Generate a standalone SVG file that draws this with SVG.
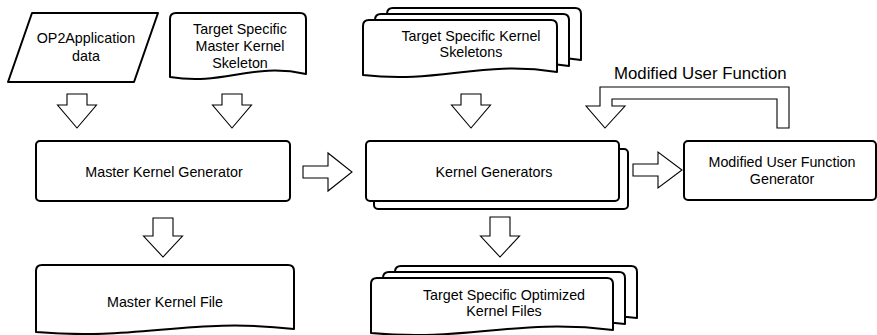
<svg xmlns="http://www.w3.org/2000/svg" width="877" height="335" viewBox="0 0 877 335">
<style>
.shape{fill:#fff;stroke:#000;stroke-width:2;stroke-linejoin:round}
.arrow{fill:#fff;stroke:#000;stroke-width:1.1;stroke-linejoin:miter}
text{font-family:"Liberation Sans",Arial,Helvetica,sans-serif;font-size:14.3px;fill:#000;text-anchor:middle}
.lbl{font-size:16.8px;text-anchor:start}
</style>
<rect width="877" height="335" fill="#fff"/>
<g id="op2-data">
<path class="shape" d="M32,13 L158,13 L134,82 L8,82 Z"/>
<text x="86" y="43">OP2Application</text>
<text x="86" y="61">data</text>
</g>
<g id="master-skeleton">
<path class="shape" d="M170,77 L170,19 Q170,13 176,13 L300,13 Q306,13 306,19 L306,74 C251.6,62 224.4,86 170,77 Z"/>
<text x="240" y="34">Target Specific</text>
<text x="240" y="51">Master Kernel</text>
<text x="240" y="67.5">Skeleton</text>
</g>
<g id="kernel-skeletons">
<path class="shape" d="M387,63 L387,14 Q387,8 393,8 L575,8 Q581,8 581,14 L581,60 C503.4,48 464.6,72 387,63 Z"/>
<path class="shape" d="M375,69 L375,20 Q375,14 381,14 L563,14 Q569,14 569,20 L569,66 C491.4,54 452.6,78 375,69 Z"/>
<path class="shape" d="M363,75 L363,26 Q363,20 369,20 L551,20 Q557,20 557,26 L557,72 C479.4,60 440.6,84 363,75 Z"/>
<text x="471" y="41">Target Specific Kernel</text>
<text x="471" y="57">Skeletons</text>
</g>
<g id="master-kernel-generator">
<rect class="shape" x="36" y="141" width="254" height="60" rx="4"/>
<text x="164" y="176.5">Master Kernel Generator</text>
</g>
<g id="kernel-generators">
<rect class="shape" x="374" y="149" width="254" height="60" rx="4"/>
<rect class="shape" x="366" y="141" width="253" height="60" rx="4"/>
<text x="494" y="176.5">Kernel Generators</text>
</g>
<g id="modified-user-function-generator">
<rect class="shape" x="684" y="141" width="192" height="59" rx="4"/>
<text x="782" y="166.5">Modified User Function</text>
<text x="782" y="184">Generator</text>
</g>
<g id="master-kernel-file">
<path class="shape" d="M36,332 L36,271 Q36,265 42,265 L288,265 Q294,265 294,271 L294,329 C190.8,317 139.2,341 36,332 Z"/>
<text x="165" y="306.5">Master Kernel File</text>
</g>
<g id="optimized-kernel-files">
<path class="shape" d="M395,321 L395,272 Q395,266 401,266 L631,266 Q637,266 637,272 L637,318 C540.2,306 491.8,330 395,321 Z"/>
<path class="shape" d="M383,327 L383,278 Q383,272 389,272 L619,272 Q625,272 625,278 L625,324 C528.2,312 479.8,336 383,327 Z"/>
<path class="shape" d="M371,333 L371,284 Q371,278 377,278 L607,278 Q613,278 613,284 L613,330 C516.2,318 467.8,342 371,333 Z"/>
<text x="504" y="299.5">Target Specific Optimized</text>
<text x="504" y="316">Kernel Files</text>
</g>
<g id="connectors">
<path class="arrow" d="M67,94 L87,94 L87,105 L96.5,105 L77,128 L57.5,105 L67,105 Z"/>
<path class="arrow" d="M222,94 L242,94 L242,105 L251.5,105 L232,128 L212.5,105 L222,105 Z"/>
<path class="arrow" d="M461,94 L481,94 L481,105 L490.5,105 L471,128 L451.5,105 L461,105 Z"/>
<path class="arrow" d="M777,128 L777,99 L612,99 L612,106 L625,106 L605,128 L586,106 L600,106 L600,87 L789,87 L789,128 Z"/>
<path class="arrow" d="M303,166 L328,166 L328,153 L352,172 L328,191 L328,178 L303,178 Z"/>
<path class="arrow" d="M633,164 L658,164 L658,152 L682,170 L658,188 L658,176 L633,176 Z"/>
<path class="arrow" d="M153,218 L173,218 L173,236 L182.5,236 L163,257 L143.5,236 L153,236 Z"/>
<path class="arrow" d="M490,217 L510,217 L510,236 L519.5,236 L500,257 L480.5,236 L490,236 Z"/>
<text class="lbl" x="614" y="78.5">Modified User Function</text>
</g>
</svg>
